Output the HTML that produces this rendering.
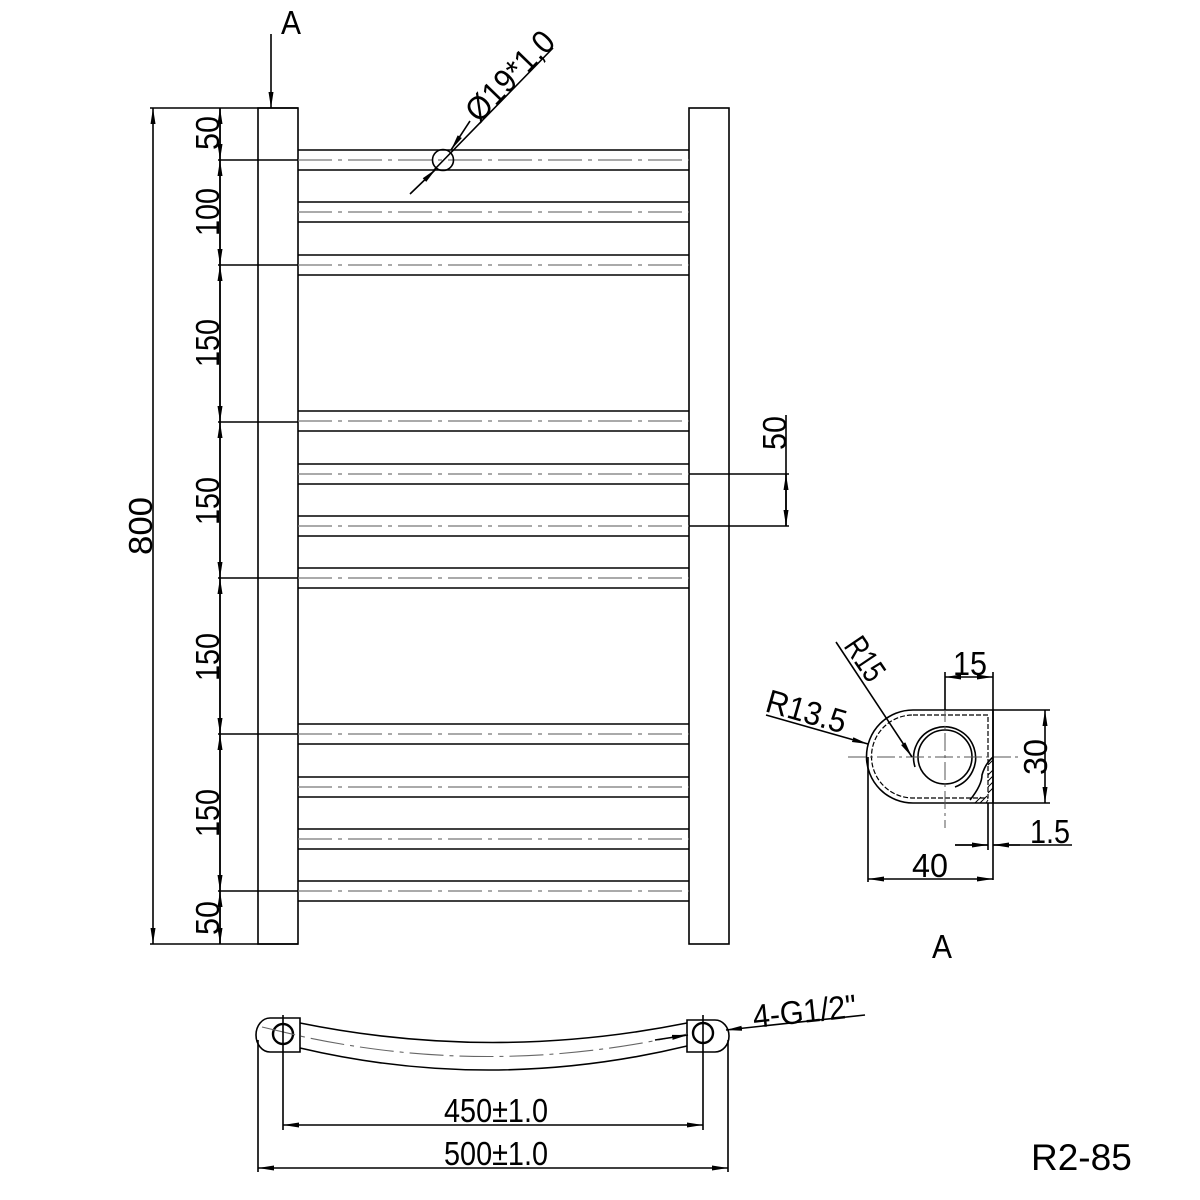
<!DOCTYPE html>
<html><head><meta charset="utf-8"><style>
html,body{margin:0;padding:0;background:#fff}
svg{display:block}
text{font-family:"Liberation Sans",sans-serif;fill:#000}
.t{font-size:33px}
</style></head><body>
<svg width="1200" height="1200" viewBox="0 0 1200 1200" xmlns="http://www.w3.org/2000/svg">
<defs>
<marker id="a" markerWidth="16" markerHeight="8" refX="16" refY="4" orient="auto-start-reverse" markerUnits="userSpaceOnUse">
<path d="M0,1.5 L16,4 L0,6.5 Z" fill="#000"/></marker>
</defs>
<g stroke="#000" stroke-width="1.6" fill="none">
<rect x="258" y="108" width="40" height="836"/>
<rect x="689" y="108" width="40" height="836"/>
<path d="M298 150H689M298 170H689 M298 202H689M298 222H689 M298 255H689M298 275H689 M298 411H689M298 431H689 M298 464H689M298 484H689 M298 516H689M298 536H689 M298 568H689M298 588H689 M298 724H689M298 744H689 M298 777H689M298 797H689 M298 829H689M298 849H689 M298 881H689M298 901H689"/>
<path stroke="#777" stroke-width="1.2" stroke-dasharray="34,6,4,6" d="M298 160H689M298 212H689M298 265H689M298 421H689M298 474H689M298 526H689M298 578H689M298 734H689M298 787H689M298 839H689M298 891H689"/>
<path d="M689 474H789M689 526H789M786 415V526"/>
<line x1="786" y1="500" x2="786" y2="474" marker-end="url(#a)"/>
<line x1="786" y1="500" x2="786" y2="526" marker-end="url(#a)"/>
<path d="M150 108H298M150 944H298M218 160H298M218 265H298M218 422H298M218 578H298M218 734H298M218 891H298"/>
<line x1="153" y1="526" x2="153" y2="108" marker-end="url(#a)"/>
<line x1="153" y1="526" x2="153" y2="944" marker-end="url(#a)"/>
<path d="M220 108V944"/>
<line x1="220" y1="134" x2="220" y2="108" marker-end="url(#a)"/>
<line x1="220" y1="134" x2="220" y2="160" marker-end="url(#a)"/>
<line x1="220" y1="212" x2="220" y2="160" marker-end="url(#a)"/>
<line x1="220" y1="212" x2="220" y2="265" marker-end="url(#a)"/>
<line x1="220" y1="343" x2="220" y2="265" marker-end="url(#a)"/>
<line x1="220" y1="343" x2="220" y2="422" marker-end="url(#a)"/>
<line x1="220" y1="500" x2="220" y2="422" marker-end="url(#a)"/>
<line x1="220" y1="500" x2="220" y2="578" marker-end="url(#a)"/>
<line x1="220" y1="656" x2="220" y2="578" marker-end="url(#a)"/>
<line x1="220" y1="656" x2="220" y2="734" marker-end="url(#a)"/>
<line x1="220" y1="812" x2="220" y2="734" marker-end="url(#a)"/>
<line x1="220" y1="812" x2="220" y2="891" marker-end="url(#a)"/>
<line x1="220" y1="918" x2="220" y2="891" marker-end="url(#a)"/>
<line x1="220" y1="918" x2="220" y2="944" marker-end="url(#a)"/>
<line x1="271" y1="34" x2="271" y2="108" marker-end="url(#a)"/>
<line x1="553" y1="48" x2="433" y2="171" />
<line x1="470" y1="121" x2="451" y2="150" marker-end="url(#a)"/>
<line x1="410" y1="194" x2="436" y2="169" marker-end="url(#a)"/>
<circle cx="443" cy="160" r="10.5"/>
<path d="M913 710H993V803H913A46.5 46.5 0 0 1 913 710Z"/>
<path stroke-dasharray="5,2" stroke-width="1.2" d="M913 715H988V798H913A41.5 41.5 0 0 1 913 715Z"/>
<circle cx="945" cy="757" r="27"/>
<path d="M915 767A31 31 0 1 1 955 787"/>
<path d="M970 800Q982 785 982 775Q985 764 993 757"/>
<path stroke-width="1" d="M975 803L981 797M980 803L987 796M986 803L988 800M988 775L993 770M988 781L993 776M988 787L993 782M988 793L993 788M988 765L993 760"/>
<path stroke-dasharray="18,4,3,4" stroke-width="1" stroke="#555" d="M848 757H1022M945 675V828"/>
<path d="M945 672V710M993 672V880M988 803V850M993 710H1050M993 803H1050M868 757V882M955 845H988M993 845H1072"/>
<line x1="969" y1="677" x2="945" y2="677" marker-end="url(#a)"/>
<line x1="969" y1="677" x2="993" y2="677" marker-end="url(#a)"/>
<line x1="1045" y1="757" x2="1045" y2="710" marker-end="url(#a)"/>
<line x1="1045" y1="757" x2="1045" y2="803" marker-end="url(#a)"/>
<line x1="955" y1="845" x2="988" y2="845" marker-end="url(#a)"/>
<line x1="1020" y1="845" x2="993" y2="845" marker-end="url(#a)"/>
<line x1="930" y1="879" x2="868" y2="879" marker-end="url(#a)"/>
<line x1="930" y1="879" x2="993" y2="879" marker-end="url(#a)"/>
<line x1="836" y1="642" x2="912" y2="757" marker-end="url(#a)"/>
<line x1="766" y1="715" x2="868" y2="744" marker-end="url(#a)"/>
<path d="M270 1018H300V1052H270A14 17 0 0 1 270 1018Z"/>
<path d="M687 1020H715A14 16 0 0 1 715 1052H687Z"/>
<circle cx="283" cy="1034" r="10" stroke-width="2.4"/>
<circle cx="703" cy="1033" r="10" stroke-width="2.4"/>
<path d="M300 1023Q492 1062 687 1023M300 1048Q492 1093 687 1046"/>
<path stroke="#666" stroke-width="1.1" stroke-dasharray="34,6,4,6" d="M262 1027L300 1036Q492 1078 687 1034"/>
<path d="M283 1015V1130M703 1015V1130M258 1040V1172M728 1040V1172"/>
<line x1="493" y1="1125" x2="283" y2="1125" marker-end="url(#a)"/>
<line x1="493" y1="1125" x2="703" y2="1125" marker-end="url(#a)"/>
<line x1="493" y1="1168" x2="258" y2="1168" marker-end="url(#a)"/>
<line x1="493" y1="1168" x2="728" y2="1168" marker-end="url(#a)"/>
<line x1="865" y1="1015" x2="726" y2="1030" marker-end="url(#a)"/>
<line x1="655" y1="1040" x2="688" y2="1035" marker-end="url(#a)"/>
</g>
<text x="281" y="34" class="t" font-size="30" textLength="20" lengthAdjust="spacingAndGlyphs">A</text>
<text x="932" y="958" class="t" textLength="20" lengthAdjust="spacingAndGlyphs">A</text>
<g class="t">
<text transform="translate(152,526) rotate(-90)" text-anchor="middle" textLength="58" lengthAdjust="spacingAndGlyphs">800</text>
<text transform="translate(219,133) rotate(-90)" text-anchor="middle" textLength="34" lengthAdjust="spacingAndGlyphs">50</text>
<text transform="translate(219,212) rotate(-90)" text-anchor="middle" textLength="48" lengthAdjust="spacingAndGlyphs">100</text>
<text transform="translate(219,343) rotate(-90)" text-anchor="middle" textLength="48" lengthAdjust="spacingAndGlyphs">150</text>
<text transform="translate(219,501) rotate(-90)" text-anchor="middle" textLength="48" lengthAdjust="spacingAndGlyphs">150</text>
<text transform="translate(219,657) rotate(-90)" text-anchor="middle" textLength="48" lengthAdjust="spacingAndGlyphs">150</text>
<text transform="translate(219,813) rotate(-90)" text-anchor="middle" textLength="48" lengthAdjust="spacingAndGlyphs">150</text>
<text transform="translate(219,918) rotate(-90)" text-anchor="middle" textLength="34" lengthAdjust="spacingAndGlyphs">50</text>
<text transform="translate(786,433) rotate(-90)" text-anchor="middle" textLength="34" lengthAdjust="spacingAndGlyphs">50</text>
<text transform="translate(1047,757) rotate(-90)" text-anchor="middle" textLength="36" lengthAdjust="spacingAndGlyphs">30</text>
<text transform="translate(479,124) rotate(-45.8)" textLength="112" lengthAdjust="spacingAndGlyphs">Ø19*1,0</text>
<text x="953" y="675" textLength="34" lengthAdjust="spacingAndGlyphs">15</text>
<text x="1030" y="843" textLength="40" lengthAdjust="spacingAndGlyphs">1.5</text>
<text x="912" y="877" textLength="36" lengthAdjust="spacingAndGlyphs">40</text>
<text transform="translate(843,646) rotate(56)" textLength="46" lengthAdjust="spacingAndGlyphs">R15</text>
<text transform="translate(764,711) rotate(16)" textLength="82" lengthAdjust="spacingAndGlyphs">R13.5</text>
<text x="444" y="1122" textLength="104" lengthAdjust="spacingAndGlyphs">450±1.0</text>
<text x="444" y="1165" textLength="104" lengthAdjust="spacingAndGlyphs">500±1.0</text>
<text transform="translate(754,1028) rotate(-6)" textLength="104" lengthAdjust="spacingAndGlyphs">4-G1/2"</text>
</g>
<text x="1031" y="1170" font-size="37">R2-85</text>
</svg>
</body></html>
